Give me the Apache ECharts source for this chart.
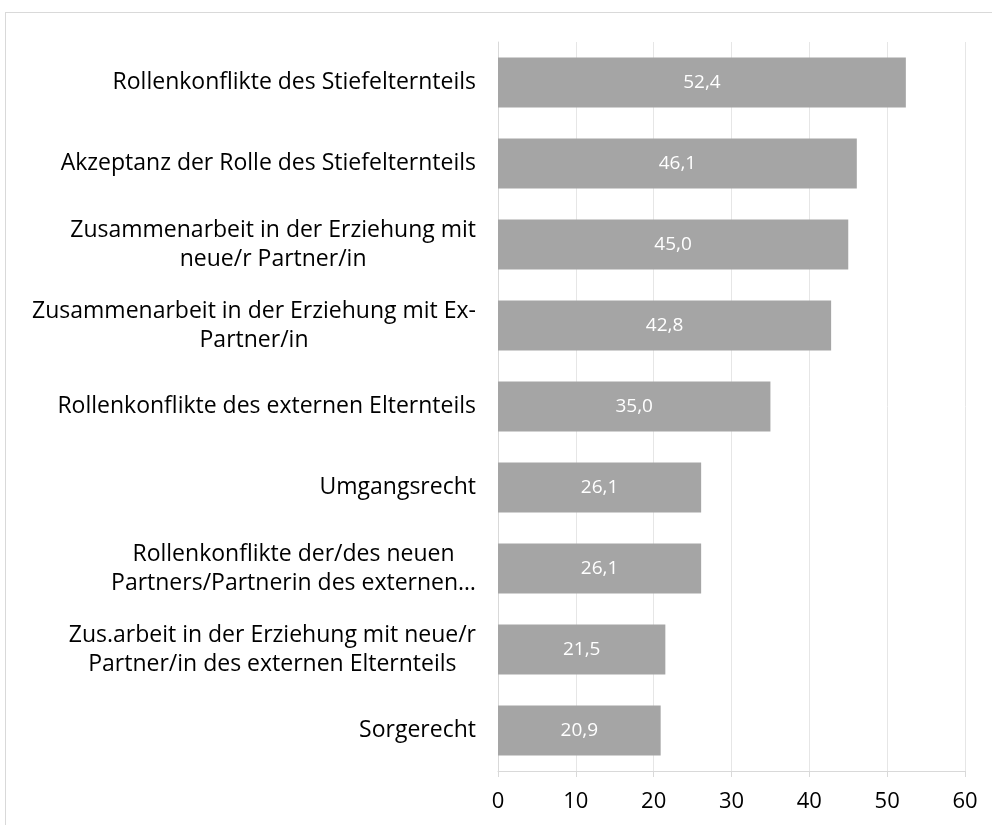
<!DOCTYPE html>
<html>
<head>
<meta charset="utf-8">
<script src="https://cdn.jsdelivr.net/npm/echarts@6/dist/echarts.min.js"></script>
<style>
  html, body { margin: 0; padding: 0; background: #fff; }
  #frame {
    position: absolute; left: 5px; top: 12px; width: 992px; height: 820px;
    border: 1px solid #d9d9d9; box-sizing: border-box;
  }
  #chart { position: absolute; left: 0; top: 0; width: 992px; height: 825px; }
</style>
</head>
<body>
<div id="frame"></div>
<div id="chart"></div>
<script>
const categories = [
  "Rollenkonflikte des Stiefelternteils",
  "Akzeptanz der Rolle des Stiefelternteils",
  "Zusammenarbeit in der Erziehung mit\nneue/r Partner/in",
  "Zusammenarbeit in der Erziehung mit Ex-\nPartner/in",
  "Rollenkonflikte des externen Elternteils",
  "Umgangsrecht",
  "Rollenkonflikte der/des neuen\nPartners/Partnerin des externen…",
  "Zus.arbeit in der Erziehung mit neue/r\nPartner/in des externen Elternteils",
  "Sorgerecht"
];
const values = [52.4, 46.1, 45.0, 42.8, 35.0, 26.1, 26.1, 21.5, 20.9];
const xTicks = [0, 10, 20, 30, 40, 50, 60];

const chart = echarts.init(document.getElementById("chart"));

const fontFamily = "'Open Sans', 'Noto Sans', sans-serif";

const option = {
  animation: false,
  grid: { left: 498, right: 27, top: 42, bottom: 54 },
  xAxis: {
    type: "value",
    min: xTicks[0],
    max: xTicks[xTicks.length - 1],
    interval: 10,
    axisLine: { show: true, lineStyle: { color: "#d9d9d9" } },
    axisTick: { show: true, length: 6, lineStyle: { color: "#d9d9d9" } },
    splitLine: { show: true, lineStyle: { color: "#e6e6e6" } },
    axisLabel: { color: "#000", fontSize: 22, fontFamily: fontFamily, margin: 20 }
  },
  yAxis: {
    type: "category",
    inverse: true,
    data: categories,
    axisLine: { show: true, lineStyle: { color: "#d9d9d9" } },
    axisTick: { show: false },
    axisLabel: {
      margin: 22,
      fontSize: 23,
      fontFamily: fontFamily,
      color: "#000",
      lineHeight: 29,
      formatter: function (v) {
        return v.split("\n").map(function (l) { return "{c|" + l + "}"; }).join("\n");
      },
      rich: {
        c: { align: "center", fontSize: 23, fontFamily: fontFamily, color: "#000", lineHeight: 29 }
      }
    }
  },
  series: [{
    type: "bar",
    data: values,
    barCategoryGap: "38%",
    itemStyle: { color: "#a5a5a5" },
    label: {
      show: true,
      position: "inside",
      color: "#fff",
      fontSize: 19,
      fontFamily: fontFamily,
      formatter: function (p) { return p.value.toFixed(1).replace(".", ","); }
    }
  }]
};

chart.setOption(option);
</script>
</body>
</html>
